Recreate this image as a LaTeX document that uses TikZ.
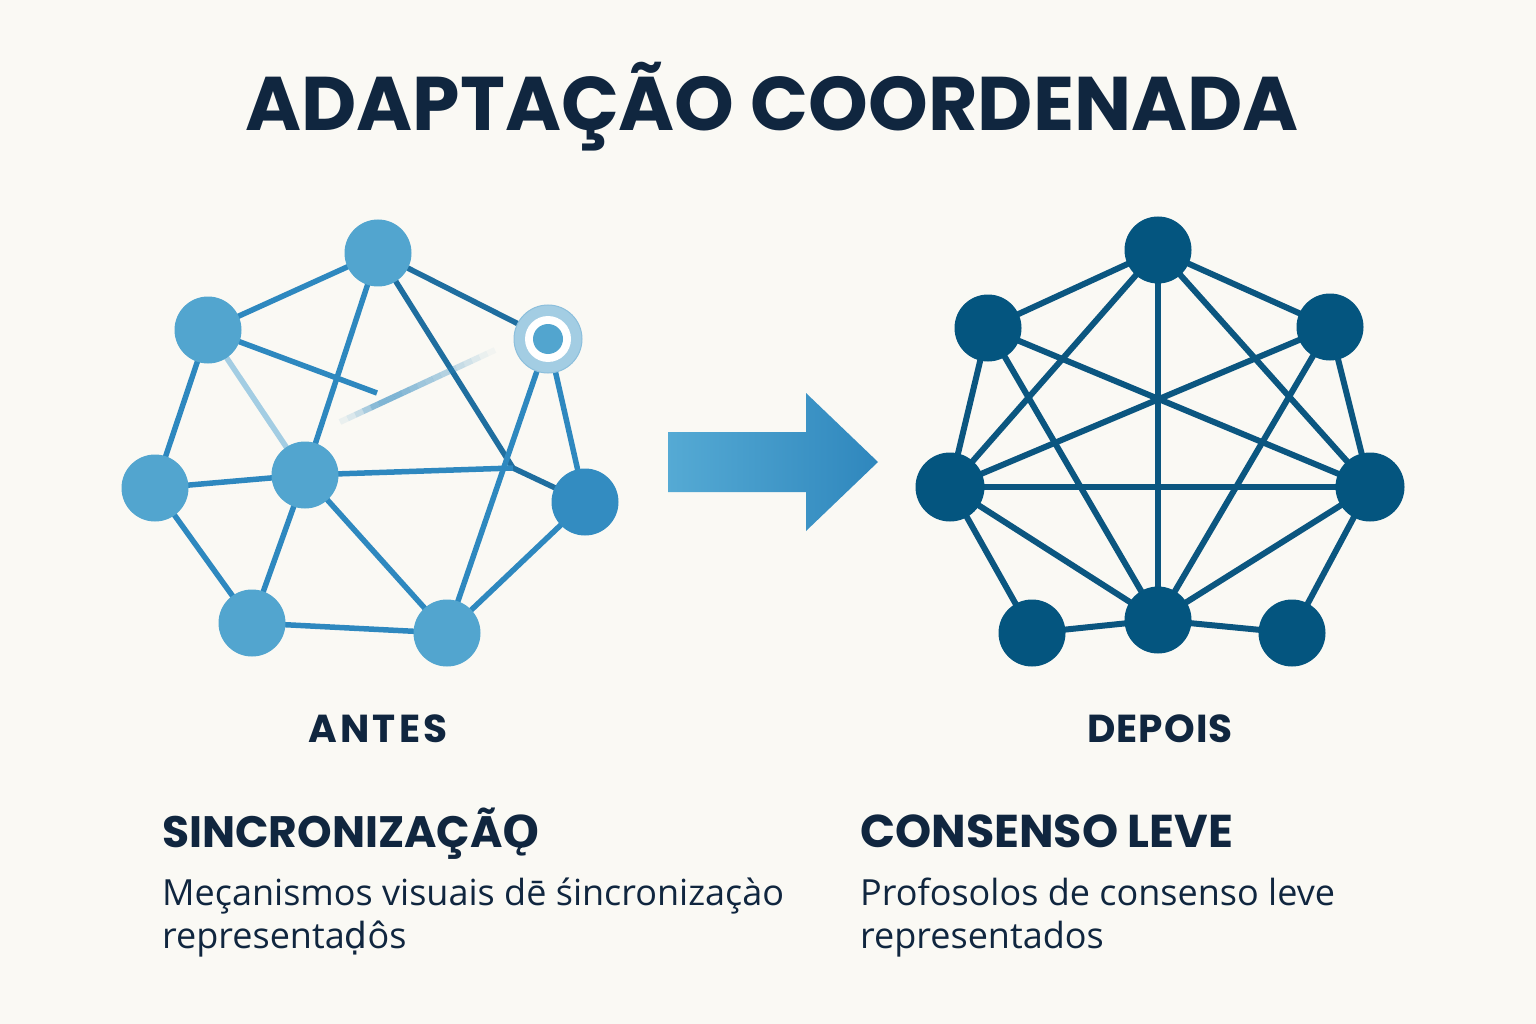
\documentclass[tikz,border=0pt]{standalone}
\usepackage{fontspec}
\setmainfont{Open Sans}
\newfontfamily\headfont{Poppins}
\newfontfamily\dvfont{DejaVu Sans}
\usetikzlibrary{calc}
\definecolor{bgc}{HTML}{FAF9F4}
\definecolor{navy}{HTML}{10263F}
\definecolor{lnodec}{HTML}{52A5CF}
\definecolor{llinec}{HTML}{2E88BF}
\definecolor{ldarkc}{HTML}{1F6E9F}
\definecolor{lfaint}{HTML}{A3CDE3}
\definecolor{rnodec}{HTML}{04557F}
\definecolor{rlinec}{HTML}{0B5680}
\definecolor{arrowa}{HTML}{55AAD4}
\definecolor{arrowb}{HTML}{2F87BD}
\pgfdeclarelayer{back}
\pgfdeclarelayer{bg}
\pgfsetlayers{back,bg,main}
\tikzset{
  lnode/.style={circle, fill=lnodec, minimum size=67pt, inner sep=0pt},
  rnode/.style={circle, fill=rnodec, minimum size=67pt, inner sep=0pt},
  ledge/.style={draw=llinec, line width=5.5pt, line join=round},
  ldedge/.style={draw=ldarkc, line width=5.5pt, line join=round},
  redge/.style={draw=rlinec, line width=6pt},
  heading/.style={anchor=base west, text=navy, inner sep=0pt, font=\headfont\bfseries\fontsize{44}{50}\selectfont},
  body/.style={anchor=base west, text=navy, inner sep=0pt, font=\fontsize{36}{42}\selectfont},
  label/.style={anchor=base, text=navy, inner sep=0pt, font=\headfont\bfseries\fontsize{39}{44}\selectfont}
}
\begin{document}
\begin{tikzpicture}[x=1pt, y=-1pt]
\begin{pgfonlayer}{back}
\fill[bgc] (0,0) rectangle (1536,1024);
\end{pgfonlayer}
\useasboundingbox (0,0) rectangle (1536,1024);

% title
\node[anchor=base, text=navy, inner sep=0pt, font=\headfont\bfseries\fontsize{76}{86}\selectfont] (title) at (772,131) {ADAPTAÇÃO COORDENADA};

% left network
\node[lnode] (L1) at (378,253) {};
\node[lnode] (L2) at (208,330) {};
\node[circle, minimum size=68pt, inner sep=0pt, fill=lfaint, draw=lfaint!80!llinec, line width=1pt] (L3) at (548,339) {};
\fill[white] (L3.center) circle (23pt);
\fill[lnodec] (L3.center) circle (15pt);
\node[lnode] (L4) at (155,488) {};
\node[lnode] (L5) at (305,475) {};
\node[lnode, fill=llinec!85!lnodec] (L6) at (585,502) {};
\node[lnode] (L7) at (252,623) {};
\node[lnode] (L8) at (447,633) {};
\coordinate (S1) at (377,393);
\coordinate (J) at (513,468);
\coordinate (F1) at (340,422);
\coordinate (F2) at (495,350);
\begin{pgfonlayer}{bg}
\draw[ledge] (L1.center) -- (L2.center);
\draw[ldedge] (L1.center) -- (L3.center);
\draw[ledge] (L1.center) -- (L5.center);
\draw[ldedge] (L1.center) -- (J) -- (L6.center);
\draw[ledge] (L2.center) -- (L4.center);
\draw[draw=lfaint, line width=5.5pt] (L2.center) -- (L5.center);
\draw[ledge] (L2.center) -- (S1);
\draw[ledge] (L3.center) -- (L8.center);
\draw[ledge] (L3.center) -- (L6.center);
\draw[ledge] (L4.center) -- (L5.center);
\draw[ledge] (L4.center) -- (L7.center);
\draw[ledge] (L5.center) -- (J);
\draw[ledge] (L5.center) -- (L7.center);
\draw[ledge] (L5.center) -- (L8.center);
\draw[ledge] (L6.center) -- (L8.center);
\draw[ledge] (L7.center) -- (L8.center);
\foreach \t/\o in {0/0.08,0.05/0.15,0.1/0.25,0.15/0.4,0.2/0.55,0.25/0.6,0.3/0.6,0.35/0.6,0.4/0.55,0.45/0.5,0.5/0.45,0.55/0.42,0.6/0.38,0.65/0.34,0.7/0.3,0.75/0.25,0.8/0.2,0.85/0.14,0.9/0.08,0.95/0.04}
  \draw[draw=llinec, line width=6pt, opacity=\o] ($(F1)!\t!(F2)$) -- ($(F1)!\t+0.05!(F2)$);
\end{pgfonlayer}

% arrow
\shade[left color=arrowa, right color=arrowb] (668,432) -- (806,432) -- (806,393) -- (878,462) -- (806,531) -- (806,492) -- (668,492) -- cycle;

% right network
\node[rnode] (R1) at (1158,250) {};
\node[rnode] (R2) at (988,328) {};
\node[rnode] (R3) at (1330,327) {};
\node[rnode, minimum size=69pt] (R4) at (950,487) {};
\node[rnode, minimum size=69pt] (R5) at (1370,487) {};
\node[rnode] (R6) at (1032,633) {};
\node[rnode] (R7) at (1158,620) {};
\node[rnode] (R8) at (1292,633) {};
\begin{pgfonlayer}{bg}
\foreach \a/\b in {R1/R2,R1/R3,R1/R4,R1/R5,R1/R7,R2/R4,R2/R5,R2/R7,R3/R4,R3/R5,R3/R7,R4/R5,R4/R6,R4/R7,R5/R7,R5/R8,R6/R7,R7/R8}
  \draw[redge] (\a.center) -- (\b.center);
\end{pgfonlayer}

% labels
\node[label] (antes) at (378,742) {\addfontfeatures{LetterSpace=8}ANTES};
\node[label] (depois) at (1160,742) {\addfontfeatures{LetterSpace=3}DEPOIS};

\node[heading] (h1) at (162,847) {SINCRONIZAÇÃ{\dvfont\bfseries Ǫ}};
\node[body] (b1) at (162,905) {Meçanismos visuais dē śincronizaçào};
\node[body] (b2) at (162,948) {representa{\dvfont ḍ}ôs};

\node[heading, font=\headfont\bfseries\fontsize{46}{50}\selectfont] (h2) at (860,847) {CONSENSO LEVE};
\node[body] (b3) at (860,905) {Profosolos de consenso leve};
\node[body] (b4) at (860,948) {representados};
\end{tikzpicture}
\end{document}
